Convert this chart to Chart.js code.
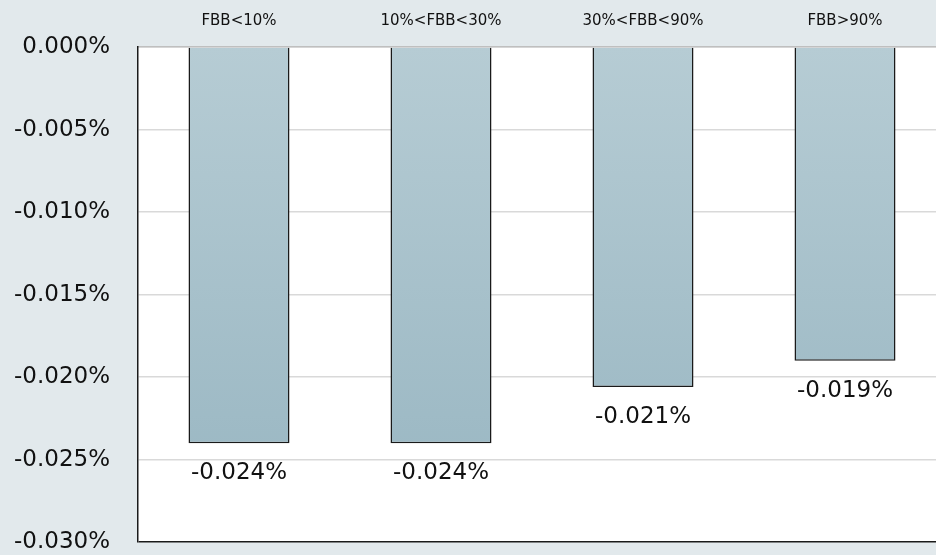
<!DOCTYPE html>
<html>
<head>
<meta charset="utf-8">
<script src="https://cdn.jsdelivr.net/npm/chart.js@4"></script>
<style>
  html, body { margin: 0; padding: 0; background: #e2e9ec; overflow: hidden; }
  #wrap { width: 946px; height: 584px; }
</style>
</head>
<body>
<div id="wrap"><canvas id="first_canvas"></canvas></div>
<script>
// chart data, values in percent
const categories = ["FBB<10%", "10%<FBB<30%", "30%<FBB<90%", "FBB>90%"];
const fbb_values = [-0.024, -0.024, -0.0206, -0.019];
const y_min = -0.03;
const y_max = 0;
const y_step = 0.005;

const FONT = "DejaVu Sans";

// white plot area on the grey page
const plot_bg = {
  id: "plot_bg",
  beforeDraw(chart){
    const a = chart.chartArea;
    const c = chart.ctx;
    c.save();
    c.fillStyle = "#ffffff";
    c.fillRect(a.left, a.top, a.right - a.left, a.bottom - a.top);
    c.restore();
  }
};

// value labels under every bar
const bar_labels = {
  id: "bar_labels",
  afterDatasetsDraw(chart){
    const c = chart.ctx;
    const meta = chart.getDatasetMeta(0);
    c.save();
    c.font = "23px '" + FONT + "'";
    c.fillStyle = "#111111";
    c.textAlign = "center";
    c.textBaseline = "middle";
    meta.data.forEach((bar, i) => {
      c.fillText(fbb_values[i].toFixed(3) + "%", bar.x, bar.y + 30);
    });
    c.restore();
  }
};

function bar_gradient(context){
  const chart = context.chart;
  const a = chart.chartArea;
  if(!a) return "#aec4cd";
  const g = chart.ctx.createLinearGradient(0, a.top, 0, a.bottom);
  g.addColorStop(0, "#b6ccd4");
  g.addColorStop(1, "#97b5c1");
  return g;
}

const ctx_1 = document.getElementById("first_canvas");

new Chart(ctx_1, {
  type: "bar",
  data: {
    labels: categories,
    datasets: [{
      data: fbb_values,
      backgroundColor: bar_gradient,
      borderColor: "#1a1a1a",
      borderWidth: 1.5,
      borderSkipped: "start",
      barPercentage: 0.5,
      categoryPercentage: 1.0
    }]
  },
  options: {
    responsive: true,
    maintainAspectRatio: false,
    animation: false,
    layout: { padding: 0 },
    plugins: {
      legend: { display: false },
      tooltip: { enabled: false }
    },
    scales: {
      x: {
        position: "top",
        grid: { display: false, drawTicks: false },
        border: { color: "#bfbfbf", width: 1.5 },
        ticks: {
          color: "#111111",
          font: { family: FONT, size: 15 },
          padding: 17,
          maxRotation: 0
        },
        afterFit(scale){ scale.height = 47; }
      },
      y: {
        min: y_min,
        max: y_max,
        grid: {
          drawTicks: false,
          lineWidth: 1.5,
          color: (c) => (c.tick && Math.abs(c.tick.value - y_min) < 1e-9) ? "#1a1a1a" : "#d9d9d9"
        },
        border: { color: "#1a1a1a", width: 1.5 },
        ticks: {
          stepSize: y_step,
          color: "#111111",
          font: { family: FONT, size: 23 },
          padding: 28,
          callback: (v) => v.toFixed(3) + "%"
        },
        afterFit(scale){ scale.width = 138; }
      }
    }
  },
  plugins: [plot_bg, bar_labels]
});
</script>
</body>
</html>
